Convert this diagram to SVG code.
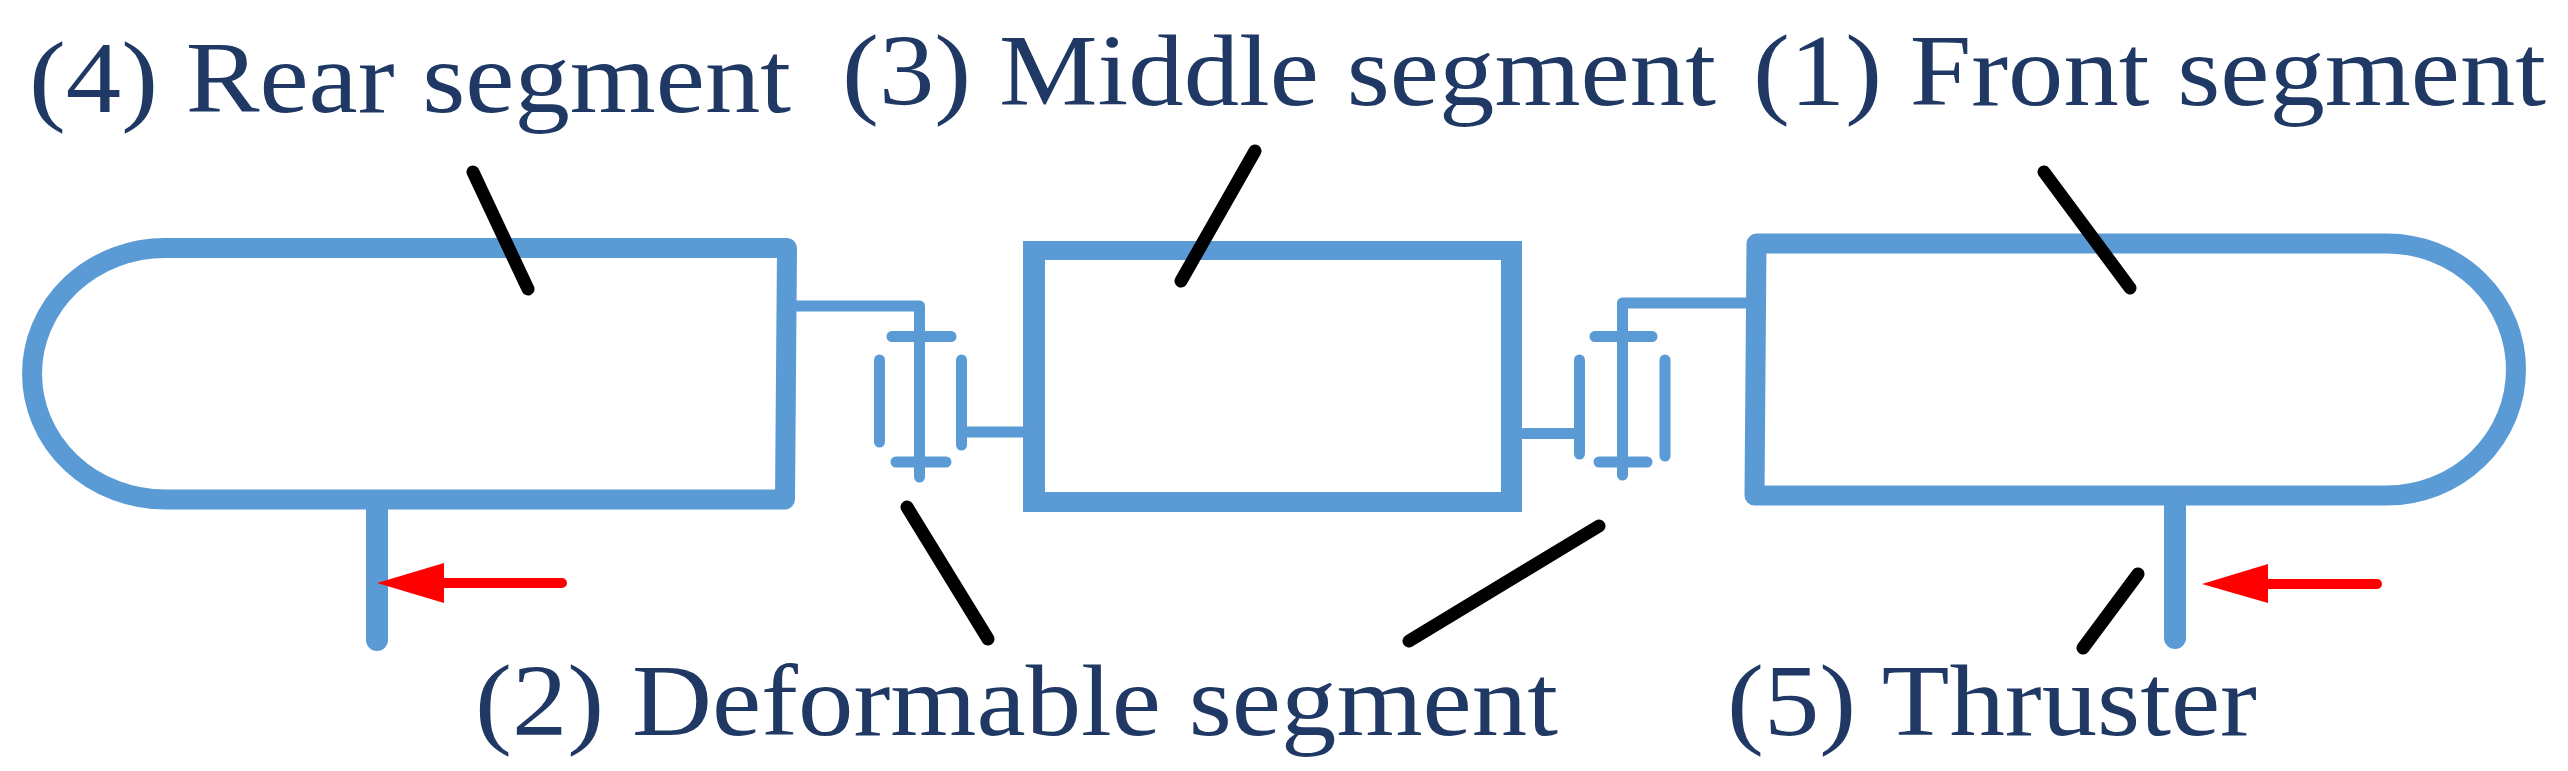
<svg xmlns="http://www.w3.org/2000/svg" width="2568" height="771" viewBox="0 0 2568 771">
<style>
.t{font-family:"Liberation Serif","Times New Roman",serif;font-size:102px;fill:#1f3864}
.b{fill:none;stroke:#5b9bd5;stroke-width:20;stroke-linejoin:round}
.m{fill:#5b9bd5;fill-rule:evenodd}
.th{fill:none;stroke:#5b9bd5;stroke-width:22;stroke-linecap:round}
.n{fill:none;stroke:#5b9bd5;stroke-width:11;stroke-linecap:round;stroke-linejoin:round}
.k{stroke:#000;stroke-width:13;stroke-linecap:round;fill:none}
.r{stroke:#f00;stroke-width:10;stroke-linecap:round;fill:none}
.h{fill:#f00}
</style>
<rect width="2568" height="771" fill="#fff"/>
<g id="rear-segment"><path class="b" d="M165 248H787L785 499.5H165A133 125.75 0 0 1 165 248Z"/></g>
<g id="middle-segment"><path class="m" d="M1023 241H1522V512H1023ZM1045 260V492H1501V260Z"/></g>
<g id="front-segment"><path class="b" d="M2387 243.5H1756.5L1754.5 495.5H2387A129 126 0 0 0 2387 243.5Z"/></g>
<g id="rear-thruster"><path class="th" d="M377 505V640"/></g>
<g id="front-thruster"><path class="th" d="M2175 500V638"/></g>
<g id="deformable-left"><path class="n" d="M790 306H919.5V477M892 336.5H951M896 462H946M879.5 360V442M961.5 360V445M967 432H1030"/></g>
<g id="deformable-right"><path class="n" d="M1746 303H1622.5V475M1595 336.5H1652M1599 462H1647M1579.5 360V454M1665 360V456M1524 433.5H1579"/></g>
<g id="connectors">
<path class="k" d="M473 172L528 289M1255 151L1181 281M2044 172L2130 288M907 507L988 639M1599 526L1409 641M2138 574L2083 648"/>
<path class="r" d="M562 583H440M2377 584H2264"/>
<path class="h" d="M377 583L444 563V603ZM2202 584L2268 564V603Z"/>
</g>
<g id="labels">
<text class="t" x="29" y="112" textLength="762" lengthAdjust="spacingAndGlyphs">(4) Rear segment</text>
<text class="t" x="842" y="105" textLength="874" lengthAdjust="spacingAndGlyphs">(3) Middle segment</text>
<text class="t" x="1753" y="105" textLength="793" lengthAdjust="spacingAndGlyphs">(1) Front segment</text>
<text class="t" x="475" y="735" textLength="1083" lengthAdjust="spacingAndGlyphs">(2) Deformable segment</text>
<text class="t" x="1727" y="735" textLength="530" lengthAdjust="spacingAndGlyphs">(5) Thruster</text>
</g>
</svg>
